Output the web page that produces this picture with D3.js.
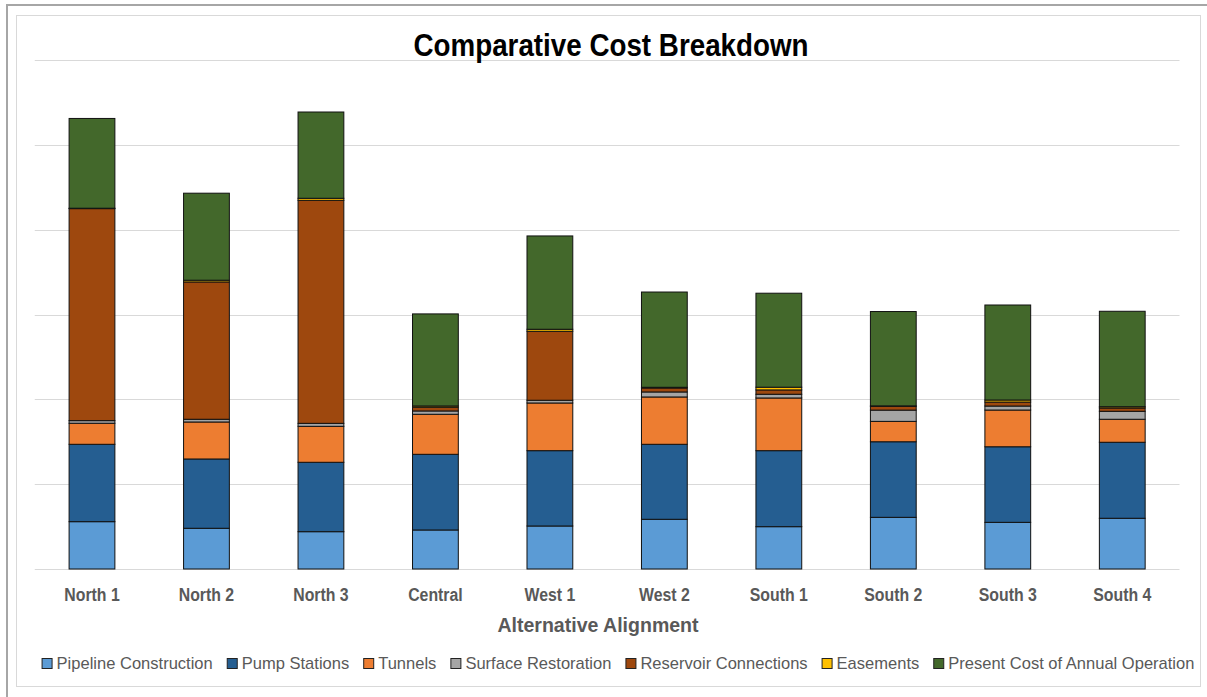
<!DOCTYPE html>
<html>
<head>
<meta charset="utf-8">
<script src="https://cdn.jsdelivr.net/npm/d3@7"></script>
<style>
  html, body { margin: 0; padding: 0; background: #fff; }
  svg { display: block; }
  text { font-family: "Liberation Sans Narrow", "Arial Narrow", "Liberation Sans", Arial, sans-serif; }
</style>
</head>
<body>
<svg id="chart" width="1207" height="697"></svg>
<script>
// Alternative alignments along the x axis
const categories = ["North 1", "North 2", "North 3", "Central", "West 1", "West 2",
                    "South 1", "South 2", "South 3", "South 4"];

// Cost components per alignment (same order as categories)
const pipelineConstruction = [55.8, 48.0, 44.0, 46.0, 50.7, 58.6, 49.9, 60.9, 55.0, 59.8];
const pumpStations         = [91.2, 81.7, 81.8, 89.2, 88.8, 88.4, 89.6, 89.1, 89.1, 89.6];
const tunnels              = [24.8, 43.6, 42.4, 47.2, 56.2, 55.8, 62.1, 24.0, 43.3, 27.1];
const surfaceRestoration   = [3.1, 3.2, 3.5, 3.9, 3.2, 5.9, 4.4, 13.3, 4.7, 9.4];
const reservoirConnections = [249.9, 161.9, 262.9, 4.4, 81.3, 4.7, 5.1, 4.4, 4.7, 3.9];
const easements            = [0.5, 2.0, 2.4, 1.5, 2.4, 0.8, 3.2, 0.6, 2.4, 1.5];
const annualOperation      = [105.8, 102.6, 101.7, 108.5, 110.0, 112.3, 110.8, 111.2, 112.0, 112.5];

// Gridline values (no tick labels are printed)
const gridTicks = [0, 100, 200, 300, 400, 500, 600];

const seriesNames = ["Pipeline Construction", "Pump Stations", "Tunnels", "Surface Restoration",
                     "Reservoir Connections", "Easements", "Present Cost of Annual Operation"];
const seriesValues = [pipelineConstruction, pumpStations, tunnels, surfaceRestoration,
                      reservoirConnections, easements, annualOperation];
const seriesColors = ["#5B9BD5", "#255E91", "#ED7D31", "#A5A5A5", "#9E480E", "#FFC000", "#43682B"];

const rows = categories.map((c, i) => {
  const r = { category: c };
  seriesNames.forEach((s, k) => { r[s] = seriesValues[k][i]; });
  return r;
});

const svg = d3.select("#chart");
const W = 1207, H = 697;

// Squeeze a text element horizontally to give it a narrow-face look
function condense(sel, factor) {
  sel.each(function() {
    const len = this.getComputedTextLength();
    d3.select(this)
      .attr("textLength", len * factor)
      .attr("lengthAdjust", "spacingAndGlyphs");
  });
}

// Frame: outer grey edge and inner chart-area border
svg.append("rect").attr("x", 0).attr("y", 0).attr("width", W).attr("height", H).attr("fill", "#fff");
svg.append("line").attr("x1", 6).attr("x2", W).attr("y1", 5).attr("y2", 5)
  .attr("stroke", "#a6a6a6").attr("stroke-width", 2);
svg.append("line").attr("x1", 7).attr("x2", 7).attr("y1", 4).attr("y2", H)
  .attr("stroke", "#a6a6a6").attr("stroke-width", 2);
svg.append("rect").attr("x", 16.5).attr("y", 15.5).attr("width", 1184).attr("height", 671)
  .attr("fill", "#fff").attr("stroke", "#d9d9d9").attr("stroke-width", 1);

const plot = { left: 34.75, right: 1179.5, top: 60, bottom: 569 };

const x = d3.scaleBand()
  .domain(categories)
  .range([plot.left, plot.right])
  .paddingInner(0.6)
  .paddingOuter(0.3);

const y = d3.scaleLinear()
  .domain([0, 600])
  .range([plot.bottom, plot.top]);

// Horizontal gridlines
svg.append("g")
  .selectAll("line")
  .data(gridTicks)
  .join("line")
  .attr("x1", plot.left)
  .attr("x2", plot.right)
  .attr("y1", d => Math.round(y(d)) + 0.5)
  .attr("y2", d => Math.round(y(d)) + 0.5)
  .attr("stroke", "#d9d9d9")
  .attr("stroke-width", 1.2);

// Stacked bars
const stack = d3.stack().keys(seriesNames);
const layers = stack(rows);

svg.append("g")
  .selectAll("g")
  .data(layers)
  .join("g")
  .attr("fill", (d, i) => seriesColors[i])
  .selectAll("rect")
  .data(d => d)
  .join("rect")
  .attr("x", d => x(d.data.category))
  .attr("width", x.bandwidth())
  .attr("y", d => y(d[1]))
  .attr("height", d => Math.max(0, y(d[0]) - y(d[1])))
  .attr("stroke", "#111")
  .attr("stroke-width", 1);

// Category axis labels
const xAxis = d3.axisBottom(x).tickSize(0).tickPadding(0);
const gx = svg.append("g")
  .attr("transform", `translate(0,${plot.bottom})`)
  .call(xAxis);
gx.select(".domain").remove();
gx.selectAll("text")
  .attr("dy", null)
  .attr("y", 32)
  .attr("fill", "#595959")
  .attr("font-size", 18)
  .attr("font-weight", "bold")
  .style("font-family", "\"Liberation Sans Narrow\", \"Arial Narrow\", \"Liberation Sans\", Arial, sans-serif")
  .call(condense, 0.88);

// Title
svg.append("text")
  .attr("x", 611)
  .attr("y", 56)
  .attr("text-anchor", "middle")
  .attr("font-size", 31)
  .attr("font-weight", "bold")
  .attr("fill", "#000")
  .text("Comparative Cost Breakdown")
  .attr("textLength", 395)
  .attr("lengthAdjust", "spacingAndGlyphs");

// Axis title
svg.append("text")
  .attr("x", 598)
  .attr("y", 632)
  .attr("text-anchor", "middle")
  .attr("font-size", 21)
  .attr("font-weight", "bold")
  .attr("fill", "#595959")
  .text("Alternative Alignment")
  .call(condense, 0.93);

// Legend, laid out left to right and centred
const legend = svg.append("g").attr("transform", "translate(0,663)");
const items = legend.selectAll("g")
  .data(seriesNames)
  .join("g");
items.append("rect")
  .attr("x", 0.5).attr("y", -4.5).attr("width", 10).attr("height", 10)
  .attr("fill", (d, i) => seriesColors[i])
  .attr("stroke", "#222").attr("stroke-width", 1);
items.append("text")
  .attr("x", 15).attr("y", 6)
  .attr("font-size", 17)
  .attr("fill", "#595959")
  .text(d => d)
  .call(condense, 0.972);

const widths = [];
items.each(function() {
  const t = d3.select(this).select("text").node();
  widths.push(15 + +t.getAttribute("textLength"));
});
const gap = 14;
const total = d3.sum(widths) + gap * (widths.length - 1);
let cx = 618 - total / 2;
items.attr("transform", (d, i) => {
  const t = `translate(${cx},0)`;
  cx += widths[i] + gap;
  return t;
});
</script>
</body>
</html>
